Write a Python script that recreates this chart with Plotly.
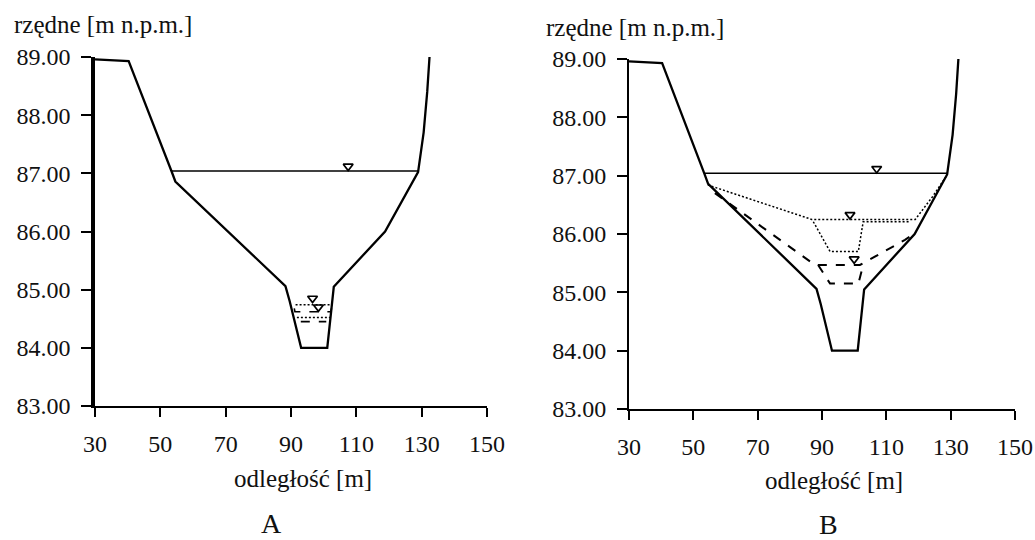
import plotly.graph_objects as go

# ---- data ----
ter_x = [30.0, 40.3, 53.4, 54.6, 88.3, 89.6, 93.1, 101.1, 103.1, 118.8, 128.9, 130.6, 131.7, 132.4]
ter_y = [88.96, 88.93, 87.04, 86.86, 85.06, 84.80, 84.00, 84.00, 85.05, 86.00, 87.02, 87.70, 88.40, 89.00]

# panel A water levels
a_high_x = [53.5, 129.0]
a_high_y = [87.04, 87.04]
a_dot1_x = [91.4, 102.1]
a_dot1_y = [84.74, 84.74]
a_dash1_x = [91.0, 91.2, 102.2, 102.4]
a_dash1_y = [84.68, 84.62, 84.62, 84.68]
a_dot2_x = [91.8, 101.9]
a_dot2_y = [84.52, 84.52]
a_dash2_x = [93.0, 100.8]
a_dash2_y = [84.45, 84.45]
a_tri_x = [107.5, 96.6, 98.4]
a_tri_y = [87.12, 84.85, 84.70]

# panel B water levels
b_high_x = [53.3, 128.9]
b_high_y = [87.04, 87.04]
b_dot1_x = [54.5, 86.8, 119.0, 124.5, 128.5]
b_dot1_y = [86.84, 86.25, 86.25, 86.65, 86.98]
b_dot2_x = [87.3, 92.5, 101.3, 102.8, 117.0]
b_dot2_y = [86.21, 85.70, 85.70, 86.21, 86.21]
b_dash1_x = [56.7, 87.8, 101.8, 115.8, 118.5]
b_dash1_y = [86.70, 85.47, 85.47, 85.90, 86.00]
b_dash2_x = [88.8, 92.5, 101.3, 102.8]
b_dash2_y = [85.47, 85.15, 85.15, 85.47]
b_tri_x = [107.0, 98.7, 100.0]
b_tri_y = [87.12, 86.33, 85.57]

x_ticks = [30, 50, 70, 90, 110, 130, 150]
y_ticks = [83, 84, 85, 86, 87, 88, 89]
y_title = "rzędne [m n.p.m.]"
x_title = "odległość [m]"
panel_labels = ["A", "B"]

FONT = "Liberation Serif"
W, H = 1035, 540

def px(xp):
    return xp / W

def py(yp):
    return 1 - yp / H

fig = go.Figure()

def line(x, y, xa, ya, width, dash="solid"):
    fig.add_trace(go.Scatter(x=x, y=y, mode="lines", xaxis=xa, yaxis=ya,
                             line=dict(color="black", width=width, dash=dash),
                             showlegend=False, hoverinfo="skip"))

def tri(x, y, xa, ya):
    fig.add_trace(go.Scatter(x=x, y=y, mode="markers", xaxis=xa, yaxis=ya,
                             marker=dict(symbol="triangle-down-open", size=8.5,
                                         color="black", line=dict(width=1.7, color="black")),
                             showlegend=False, hoverinfo="skip"))

DOT = "2px,2px"

# Panel A
line(ter_x, ter_y, "x", "y", 2.3)
line(a_high_x, a_high_y, "x", "y", 1.5)
line(a_dot1_x, a_dot1_y, "x", "y", 1.5, DOT)
line(a_dash1_x, a_dash1_y, "x", "y", 1.6, "dash")
line(a_dot2_x, a_dot2_y, "x", "y", 1.5, DOT)
line(a_dash2_x, a_dash2_y, "x", "y", 1.6, "dash")
tri(a_tri_x, a_tri_y, "x", "y")

# Panel B
line(ter_x, ter_y, "x2", "y2", 2.3)
line(b_high_x, b_high_y, "x2", "y2", 1.5)
line(b_dot1_x, b_dot1_y, "x2", "y2", 1.5, DOT)
line(b_dot2_x, b_dot2_y, "x2", "y2", 1.5, DOT)
line(b_dash1_x, b_dash1_y, "x2", "y2", 2.0, "dash")
line(b_dash2_x, b_dash2_y, "x2", "y2", 2.0, "dash")
tri(b_tri_x, b_tri_y, "x2", "y2")

def xaxis(domain, anchor):
    return dict(domain=domain, anchor=anchor, range=[30, 150], tickvals=x_ticks,
                showline=True, linecolor="black", linewidth=1.8, ticks="outside",
                ticklen=9, tickwidth=1.8, tickcolor="black", showgrid=False, zeroline=False,
                automargin=False,
                tickfont=dict(family=FONT, size=24, color="#111"), ticklabelstandoff=6)

def yaxis(domain, anchor, lw):
    return dict(domain=domain, anchor=anchor, range=[83, 89], tickvals=y_ticks,
                tickformat=".2f", showline=True, linecolor="black", linewidth=lw,
                ticks="outside", ticklen=10, tickwidth=1.8, tickcolor="black",
                showgrid=False, zeroline=False, automargin=False,
                tickfont=dict(family=FONT, size=24, color="#111"), ticklabelstandoff=6)

fig.update_layout(
    width=W, height=H, margin=dict(l=0, r=0, t=0, b=0, autoexpand=False),
    paper_bgcolor="white", plot_bgcolor="white",
    xaxis=xaxis([px(95), px(487)], "y"),
    yaxis=yaxis([py(406), py(57)], "x", 3.5),
    xaxis2=xaxis([px(629), px(1015)], "y2"),
    yaxis2=yaxis([py(409), py(59)], "x2", 1.8),
)

ann = []
for xp, yp in [(12, 25), (544, 28)]:
    ann.append(dict(text=y_title, x=px(xp), y=py(yp), xref="paper", yref="paper",
                    xanchor="left", yanchor="middle", showarrow=False,
                    font=dict(family=FONT, size=25, color="#111")))
for xp, yp in [(303, 478), (834, 480)]:
    ann.append(dict(text=x_title, x=px(xp), y=py(yp), xref="paper", yref="paper",
                    xanchor="center", yanchor="middle", showarrow=False,
                    font=dict(family=FONT, size=25, color="#111")))
for lab, (xp, yp) in zip(panel_labels, [(271, 523), (828, 524)]):
    ann.append(dict(text=lab, x=px(xp), y=py(yp), xref="paper", yref="paper",
                    xanchor="center", yanchor="middle", showarrow=False,
                    font=dict(family=FONT, size=28, color="#111")))
fig.update_layout(annotations=ann)

fig.write_html("out.html", config={"displayModeBar": False},
               post_script="document.body.style.margin='0';document.body.style.overflow='hidden';")
